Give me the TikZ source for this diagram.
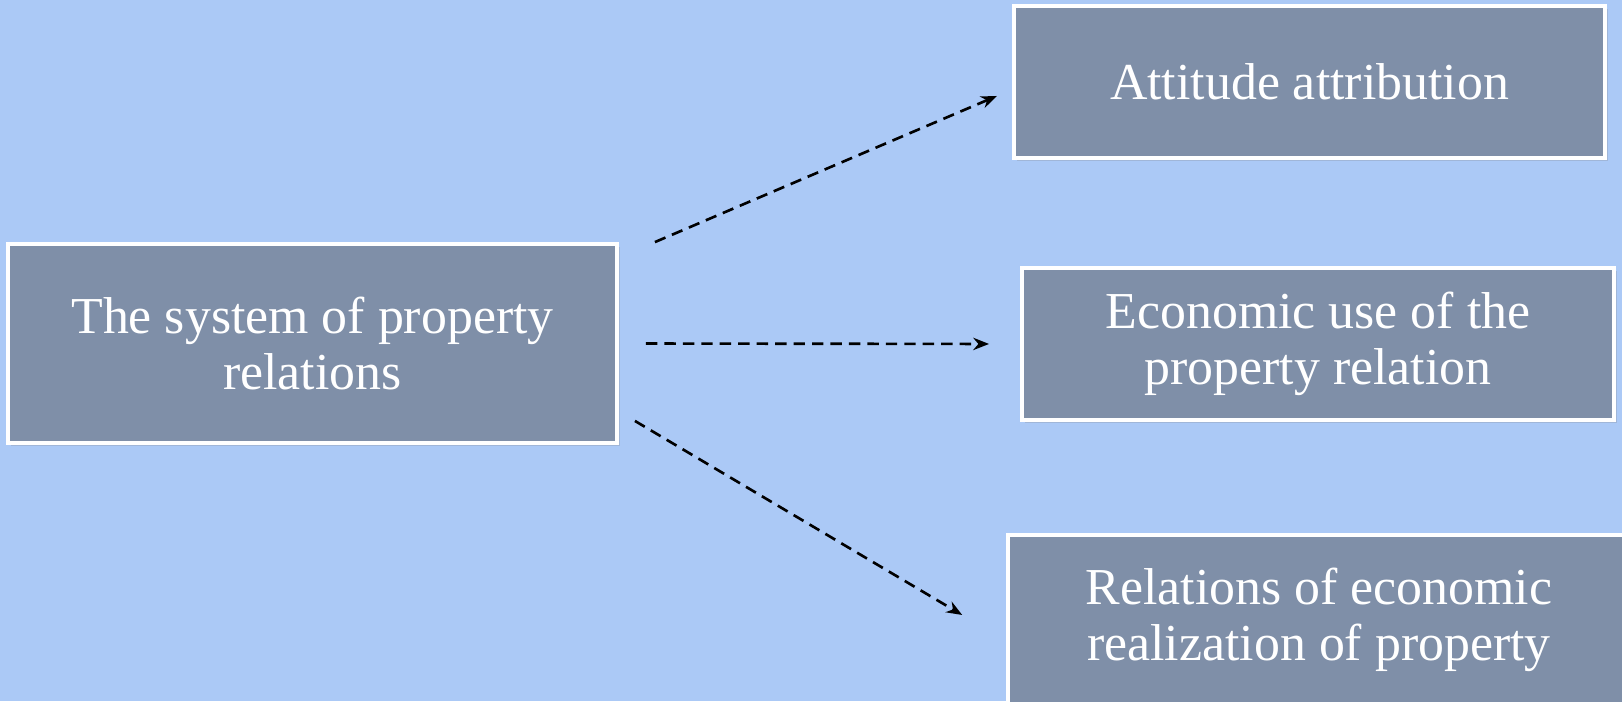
\documentclass[tikz,border=0pt]{standalone}
\usepackage{xcolor}
\usepackage{fontspec}
\setmainfont{Liberation Serif}
\usetikzlibrary{arrows.meta,shadows}

\definecolor{bgblue}{RGB}{171,201,246}
\definecolor{boxgray}{RGB}{127,143,168}

\tikzset{
    relbox/.style={draw=white, line width=2.2pt, fill=boxgray, text=white,
        align=center, inner sep=0pt, font=\fontsize{29.5}{32}\selectfont,
        drop shadow={shadow xshift=1.5pt, shadow yshift=-1.5pt, opacity=0.25}},
    relarrow/.style={-{Stealth[length=9pt,width=7pt]}, line width=1.5pt,
        dash pattern=on 6.5pt off 4pt}
}

\begin{document}
\begin{tikzpicture}
    \useasboundingbox (0,0) rectangle (32.44,14.02);
    \fill[bgblue] (0,0) rectangle (32.44,14.02);

    \node[relbox, minimum width=12.18cm, minimum height=3.98cm] (sys) at (6.25,7.15)
        {The system of property\\relations};
    \node[relbox, minimum width=11.82cm, minimum height=3.04cm] (attit) at (26.19,12.38)
        {Attitude attribution};
    \node[relbox, minimum width=11.84cm, minimum height=3.04cm] (econ) at (26.36,7.14)
        {Economic use of the\\property relation};
    \node[relbox, minimum width=12.44cm, minimum height=3.4cm] (realz) at (26.38,1.62)
        {Relations of economic\\realization of property};

    \draw[relarrow, shorten >=0.33cm] ([xshift=0.72cm]sys.north east) -- ([yshift=-0.15cm]attit.west);
    \draw[relarrow, shorten <=0.54cm, shorten >=0.62cm] (sys.east) -- (econ.west);
    \draw[relarrow, shorten >=1.02cm] ([xshift=0.32cm,yshift=0.48cm]sys.south east) -- ([yshift=-0.42cm]realz.west);
\end{tikzpicture}
\end{document}
